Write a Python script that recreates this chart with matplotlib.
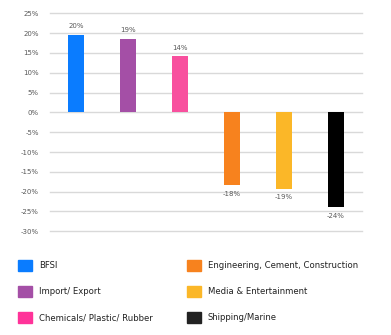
import matplotlib.pyplot as plt
from matplotlib.patches import Patch

sectors = ["BFSI", "Import/ Export", "Chemicals/ Plastic/ Rubber",
           "Engineering, Cement, Construction", "Media & Entertainment",
           "Shipping/Marine"]
growth = [19.6, 18.6, 14.2, -18.4, -19.3, -23.9]
bar_colors = ["#0A7CFF", "#A44FA6", "#F8509E", "#F7821E", "#FBB728", "#000000"]
key_colors = ["#0A7CFF", "#A44FA6", "#FF3399", "#F7821E", "#FBB728", "#222222"]
yticks = list(range(-30, 30, 5))

fig = plt.figure(figsize=(3.91, 3.35), dpi=100)
ax = fig.add_axes([50 / 391, 1 - 231.3 / 335, 312 / 391, 218 / 335])

x = range(len(sectors))
bars = ax.bar(x, growth, width=0.31, color=bar_colors, zorder=2)
ax.bar_label(bars, labels=["%.0f%%" % v for v in growth], padding=4,
             fontsize=5, color="#595959")

ax.set_xlim(-0.5, len(sectors) - 0.5)
ax.set_ylim(-30, 25)
ax.set_yticks(yticks)
ax.set_yticklabels(["%d%%" % t for t in yticks])
ax.set_xticks([])
ax.tick_params(axis="y", length=0, labelsize=5, labelcolor="#595959", pad=8)
ax.grid(axis="y", color="#D9D9D9", linewidth=1, zorder=0)
for g in ax.get_ygridlines():
    g.set_clip_on(False)
for s in ax.spines.values():
    s.set_visible(False)

# legend: two columns of three
handles = [Patch(color=c, label=s) for c, s in zip(key_colors, sectors)]
fig.legend(handles=handles, ncol=2, loc="upper left",
           bbox_to_anchor=(18 / 391, 1 - 260 / 335), frameon=False,
           fontsize=6.1, labelcolor="#222222", handlelength=1.65,
           handleheight=1.65, handletextpad=0.8, labelspacing=1.75,
           columnspacing=4.1, borderpad=0, borderaxespad=0)

fig.savefig("out.png", dpi=100)
